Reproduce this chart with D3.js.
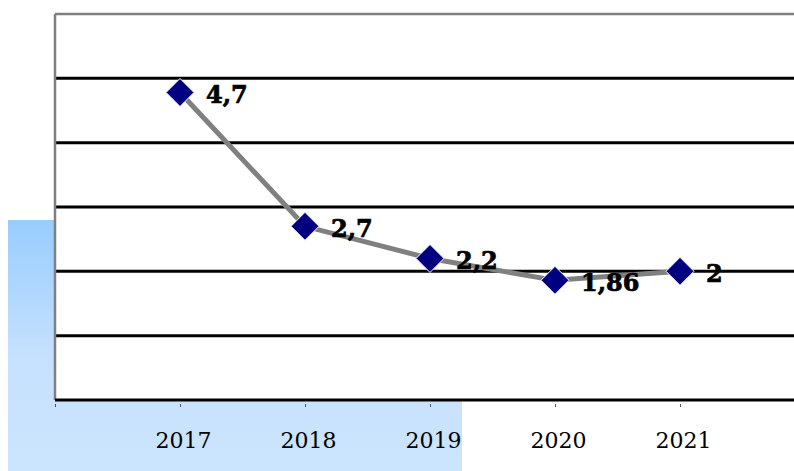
<!DOCTYPE html>
<html><head><meta charset="utf-8">
<script src="https://cdn.jsdelivr.net/npm/d3@7"></script>
<style>html,body{margin:0;padding:0;background:#fff;overflow:hidden}</style>
</head><body>
<svg id="chart" width="794" height="471"></svg>
<script>
const years = ["2017", "2018", "2019", "2020", "2021"];
const values = [4.78, 2.7, 2.2, 1.86, 2];
const valueLabels = ["4,7", "2,7", "2,2", "1,86", "2"];
const yTicks = [0, 1, 2, 3, 4, 5, 6];

(function () {
const svg = d3.select("#chart");
const mLeft = 55, mTop = 14, mBottom = 400, mRight = 794;

const defs = svg.append("defs");
const grad = defs.append("linearGradient").attr("id", "bg").attr("x1", 0).attr("y1", 0).attr("x2", 0).attr("y2", 1);
grad.append("stop").attr("offset", "0%").attr("stop-color", "#99ccff");
grad.append("stop").attr("offset", "55%").attr("stop-color", "#c6e1fd");
grad.append("stop").attr("offset", "100%").attr("stop-color", "#cce5fe");

// decorative background block
svg.append("rect").attr("x", 8).attr("y", 220).attr("width", 454).attr("height", 251).attr("fill", "url(#bg)");

const x = d3.scalePoint().domain(["", ...years, " "]).range([mLeft, mLeft + 125 * 6]);
const y = d3.scaleLinear().domain([0, 6]).range([mBottom, mTop]);

// plot area
svg.append("rect").attr("x", mLeft).attr("y", mTop).attr("width", mRight - mLeft).attr("height", mBottom - mTop).attr("fill", "#fff");

// gridlines
svg.append("g").selectAll("line").data(yTicks.filter(d => d > 0 && d < 6)).join("line")
  .attr("x1", mLeft).attr("x2", mRight).attr("y1", d => y(d)).attr("y2", d => y(d))
  .attr("stroke", "#000").attr("stroke-width", 3);

// top and left border
svg.append("line").attr("x1", mLeft).attr("x2", mRight).attr("y1", y(6)).attr("y2", y(6)).attr("stroke", "#808080").attr("stroke-width", 2.5);
svg.append("line").attr("x1", mLeft).attr("x2", mLeft).attr("y1", y(6)).attr("y2", mBottom).attr("stroke", "#808080").attr("stroke-width", 2.5);

// x axis
const xAxis = d3.axisBottom(x).tickValues(["", ...years]).tickSize(3).tickPadding(25).tickFormat(d => d);
const gx = svg.append("g").attr("transform", `translate(0,${mBottom + 4})`).call(xAxis);
gx.select(".domain").remove();
gx.selectAll(".tick line").attr("stroke", "#555").attr("stroke-width", 1);
gx.selectAll(".tick text").attr("font-family", "DejaVu Serif, serif").attr("font-size", 22).attr("fill", "#000").attr("dx", 3);
svg.append("line").attr("x1", mLeft).attr("x2", mRight).attr("y1", mBottom).attr("y2", mBottom).attr("stroke", "#000").attr("stroke-width", 3);

const data = years.map((yr, i) => ({ yr, v: values[i], lab: valueLabels[i] }));

// line
svg.append("path").datum(data)
  .attr("d", d3.line().x(d => x(d.yr)).y(d => y(d.v)))
  .attr("fill", "none").attr("stroke", "#808080").attr("stroke-width", 5);

// markers
svg.append("g").selectAll("path").data(data).join("path")
  .attr("transform", d => `translate(${x(d.yr)},${y(d.v)})`)
  .attr("d", "M0,-14L14,0L0,14L-14,0Z")
  .attr("fill", "#000080").attr("stroke", "#fff").attr("stroke-width", 1);

// labels
svg.append("g").selectAll("text").data(data).join("text")
  .attr("x", d => x(d.yr) + 26).attr("y", d => y(d.v) + 11)
  .attr("font-family", "DejaVu Serif, serif").attr("font-weight", "bold").attr("font-size", 24)
  .attr("fill", "#000").attr("stroke", "#000").attr("stroke-width", 0.7).text(d => d.lab);
})();
</script>
</body></html>
